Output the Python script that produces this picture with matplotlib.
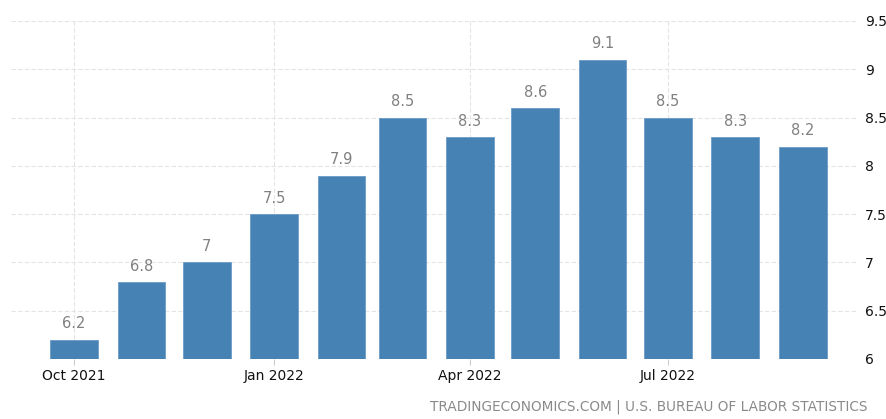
import datetime as dt

import matplotlib
matplotlib.use("Agg")
import matplotlib.pyplot as plt
import matplotlib.dates as mdates

months = [dt.date(2021, 10, 1), dt.date(2021, 11, 1), dt.date(2021, 12, 1),
          dt.date(2022, 1, 1), dt.date(2022, 2, 1), dt.date(2022, 3, 1),
          dt.date(2022, 4, 1), dt.date(2022, 5, 1), dt.date(2022, 6, 1),
          dt.date(2022, 7, 1), dt.date(2022, 8, 1), dt.date(2022, 9, 1)]
values = [6.2, 6.8, 7.0, 7.5, 7.9, 8.5, 8.3, 8.6, 9.1, 8.5, 8.3, 8.2]
value_labels = ["6.2", "6.8", "7", "7.5", "7.9", "8.5", "8.3", "8.6", "9.1", "8.5", "8.3", "8.2"]
xtick_dates = [dt.date(2021, 10, 1), dt.date(2022, 1, 1), dt.date(2022, 4, 1), dt.date(2022, 7, 1)]
xtick_labels = ["Oct 2021", "Jan 2022", "Apr 2022", "Jul 2022"]
yticks = [6, 6.5, 7, 7.5, 8, 8.5, 9, 9.5]
ytick_labels = ["6", "6.5", "7", "7.5", "8", "8.5", "9", "9.5"]

W, H = 887, 419
fig = plt.figure(figsize=(W / 100, H / 100), dpi=100)
ax = fig.add_axes([11 / W, (H - 359) / H, (857 - 11) / W, (359 - 21) / H])

x = mdates.date2num(months)
ax.bar(x, [v - 6 for v in values], bottom=6, width=22, color="#4682b4",
       edgecolor="#6a9bc6", linewidth=0.6, zorder=3)

for xi, v, lab in zip(x, values, value_labels):
    ax.text(xi, v + 0.085, lab, ha="center", va="bottom", fontsize=10.5,
            color="#808080", zorder=4)

ax.set_ylim(6, 9.5)
ax.set_xlim(mdates.date2num(dt.date(2021, 9, 2)), mdates.date2num(dt.date(2022, 9, 26)))
ax.set_yticks(yticks)
ax.set_yticklabels(ytick_labels)
ax.set_xticks(mdates.date2num(xtick_dates))
ax.set_xticklabels(xtick_labels)

ax.yaxis.tick_right()
ax.tick_params(axis="y", length=0, pad=6, labelsize=10, labelcolor="#111111")
ax.tick_params(axis="x", length=4, width=0.8, color="#cccccc", pad=3,
               labelsize=10, labelcolor="#111111")

ax.grid(True, axis="both", color="#e4e4e4", linestyle=(0, (4, 2)), linewidth=0.8, zorder=0)
for s in ax.spines.values():
    s.set_visible(False)

fig.text(868 / W, (H - 410) / H, "TRADINGECONOMICS.COM | U.S. BUREAU OF LABOR STATISTICS",
         ha="right", va="baseline", fontsize=9.8, color="#8a8a8a")

fig.savefig("out.png", dpi=100)
